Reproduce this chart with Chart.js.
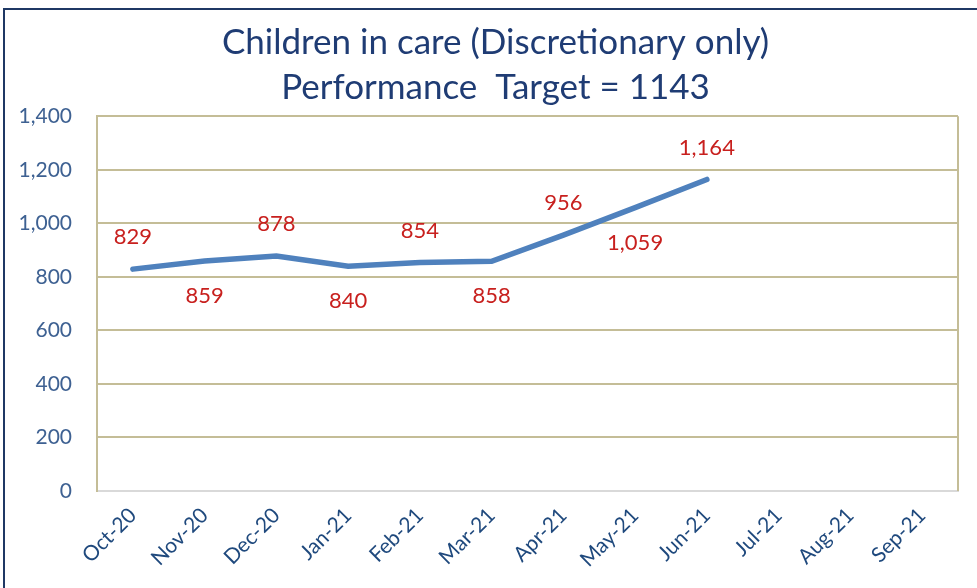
<!DOCTYPE html>
<html>
<head>
<meta charset="utf-8">
<script src="https://cdn.jsdelivr.net/npm/chart.js@4"></script>
<style>
  html, body { margin:0; padding:0; background:#fff; overflow:hidden; }
  #frame { position:absolute; left:3px; top:8px; width:990px; height:600px;
           border:2px solid #1f3864; box-sizing:border-box; }
  #wrap { position:absolute; left:0; top:0; width:977px; height:588px; }
</style>
</head>
<body>
<div id="frame"></div>
<div id="wrap"><canvas id="c"></canvas></div>
<script>
// ─── data ──────────────────────────────
const months = ['Oct-20','Nov-20','Dec-20','Jan-21','Feb-21','Mar-21',
                'Apr-21','May-21','Jun-21','Jul-21','Aug-21','Sep-21'];
const childrenInCare = [829, 859, 878, 840, 854, 858, 956, 1059, 1164, null, null, null];
const titleLines = ['Children in care (Discretionary only)', 'Performance  Target = 1143'];
const yMin = 0, yMax = 1400, yStep = 200;

const FONT = 'Lato, "Open Sans", sans-serif';
const TAN = '#c4bd97';

// plot-area right edge (Excel style frame)
const plotFrame = {
  id: 'plotFrame',
  beforeDatasetsDraw(chart) {
    const a = chart.chartArea, ctx = chart.ctx;
    ctx.save();
    ctx.strokeStyle = TAN; ctx.lineWidth = 2;
    ctx.beginPath(); ctx.moveTo(a.right, a.top); ctx.lineTo(a.right, a.bottom); ctx.stroke();
    ctx.restore();
  }
};

// value labels, alternating above / below the line
const valueLabels = {
  id: 'valueLabels',
  afterDatasetsDraw(chart) {
    const ctx = chart.ctx;
    const meta = chart.getDatasetMeta(0);
    ctx.save();
    ctx.font = '22px ' + FONT;
    ctx.fillStyle = '#c8201e';
    ctx.textAlign = 'center'; ctx.textBaseline = 'middle';
    meta.data.forEach((pt, i) => {
      const v = childrenInCare[i];
      if (v == null) return;
      const dy = i % 2 === 0 ? -32 : 35;
      ctx.fillText(v.toLocaleString('en-US'), pt.x, pt.y + dy);
    });
    ctx.restore();
  }
};

new Chart(document.getElementById('c'), {
  type: 'line',
  data: { labels: months, datasets: [{
    data: childrenInCare, borderColor:'#4f81bd', borderWidth:5.5,
    pointRadius:0, tension:0, fill:false, spanGaps:false, borderCapStyle:'round'
  }]},
  options: {
    responsive:true, maintainAspectRatio:false, animation:false,
    layout:{ padding:{ left:14, right:0, top:0, bottom:12 } },
    plugins:{
      legend:{ display:false }, tooltip:{ enabled:false },
      title:{ display:true, text:titleLines, color:'#1f3c74',
        font:{ family:FONT, size:35, weight:'normal', lineHeight:1.29 },
        padding:{ top:20, bottom:6 } }
    },
    scales:{
      x:{ offset:true,
          grid:{ display:false },
          border:{ display:true, color:'#d9d9d9', width:2 },
          ticks:{ color:'#1f497d', minRotation:45, maxRotation:45, padding:4,
                  font:{ family:FONT, size:21 } } },
      y:{ min:yMin, max:yMax,
          afterFit(scale) { scale.width = 83; },
          grid:{ color: c => c.tick && c.tick.value === 0 ? '#d9d9d9' : TAN, lineWidth:2, drawTicks:false },
          border:{ display:true, color:TAN, width:2 },
          ticks:{ stepSize:yStep, color:'#3e6192', padding:25,
                  font:{ family:FONT, size:21 } } },
      // empty right-hand gutter
      yGap:{ position:'right', min:yMin, max:yMax,
          afterFit(scale) { scale.width = 19; },
          grid:{ display:false }, border:{ display:false }, ticks:{ display:false } }
    }
  },
  plugins:[plotFrame, valueLabels]
});
</script>
</body>
</html>
